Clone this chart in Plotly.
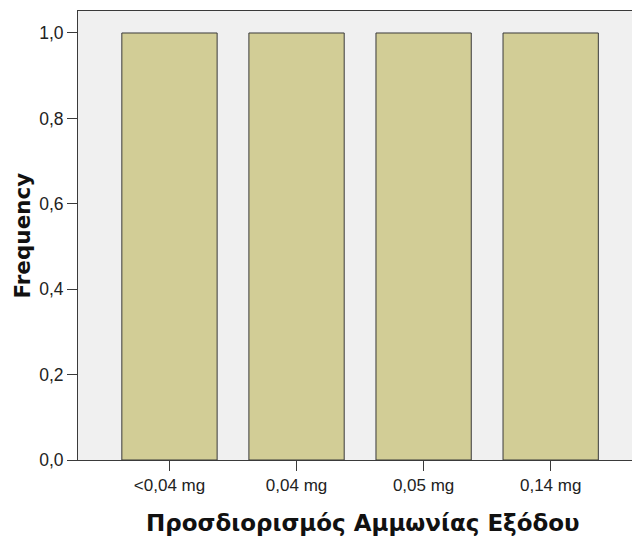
import plotly.graph_objects as go

# Frequency of each outlet ammonia reading
categories = ["<0,04 mg", "0,04 mg", "0,05 mg", "0,14 mg"]
frequency = [1, 1, 1, 1]
y_ticks = [0.0, 0.2, 0.4, 0.6, 0.8, 1.0]

x_title = "Προσδιορισμός Αμμωνίας Εξόδου"
y_title = "Frequency"

tick_font = "Liberation Sans, Arial, sans-serif"
title_font = "DejaVu Sans, Verdana, sans-serif"
axis_color = "#3a3a3a"

fig = go.Figure(
    go.Bar(
        x=list(range(len(categories))),
        y=frequency,
        width=0.75,
        marker=dict(color="#d2cd96", line=dict(color=axis_color, width=1)),
        hoverinfo="y",
    )
)

fig.update_layout(
    width=632,
    height=540,
    margin=dict(l=78, r=0, t=11, b=80),
    paper_bgcolor="white",
    plot_bgcolor="#f0f0f0",
    separators=",.",
    showlegend=False,
    font=dict(family=tick_font, size=17, color="#222222"),
    xaxis=dict(
        range=[-0.72, 3.64],
        tickmode="array",
        tickvals=list(range(len(categories))),
        ticktext=categories,
        ticks="outside",
        ticklen=10,
        tickwidth=1,
        tickcolor=axis_color,
        showline=True,
        linecolor=axis_color,
        linewidth=1,
        mirror=True,
        showgrid=False,
        zeroline=False,
        tickfont=dict(size=17),
        fixedrange=True,
    ),
    yaxis=dict(
        range=[0, 1.0515],
        tickmode="array",
        tickvals=y_ticks,
        tickformat=".1f",
        ticks="outside",
        ticklen=10,
        tickwidth=1,
        tickcolor=axis_color,
        showline=True,
        linecolor=axis_color,
        linewidth=1,
        showgrid=False,
        zeroline=False,
        tickfont=dict(size=17.5),
        fixedrange=True,
    ),
    annotations=[
        dict(
            text=f"<b>{x_title}</b>",
            xref="paper", yref="paper",
            x=0.514, y=-0.141,
            xanchor="center", yanchor="middle",
            showarrow=False,
            font=dict(family=title_font, size=23, color="#111111"),
        ),
        dict(
            text=f"<b>{y_title}</b>",
            xref="paper", yref="paper",
            x=-0.101, y=0.5,
            xanchor="center", yanchor="middle",
            textangle=-90,
            showarrow=False,
            font=dict(family=title_font, size=21.5, color="#111111"),
        ),
    ],
)

fig.write_html("out.html")
